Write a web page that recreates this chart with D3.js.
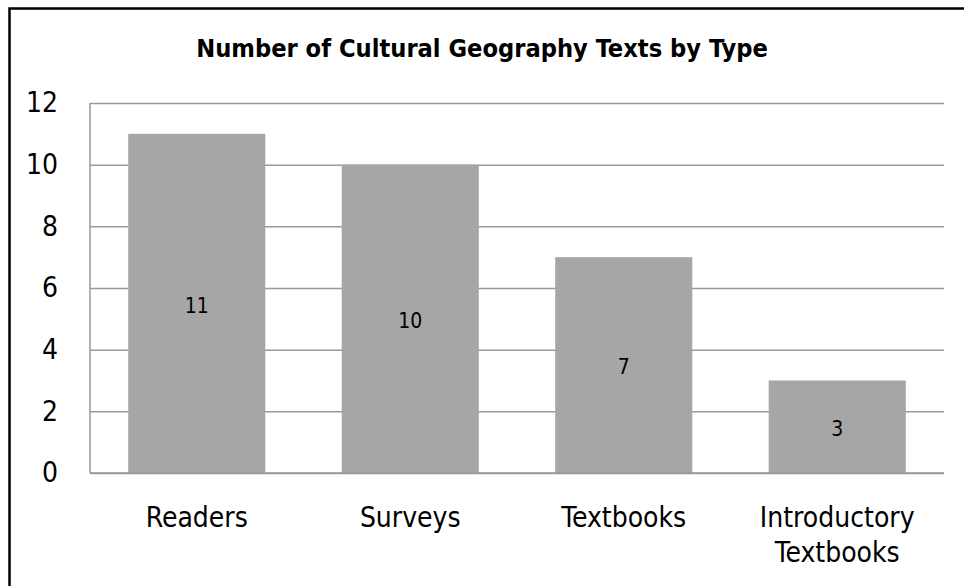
<!DOCTYPE html>
<html><head><meta charset="utf-8">
<script src="https://cdn.jsdelivr.net/npm/d3@7"></script>
<style>
html,body{margin:0;padding:0;background:#fff;}
svg text{font-family:"DejaVu Sans Condensed","DejaVu Sans",sans-serif;fill:#000;}
</style></head><body>
<svg id="chart" width="964" height="586"></svg>
<script>
const title = "Number of Cultural Geography Texts by Type";
const categories = ["Readers", "Surveys", "Textbooks", "Introductory Textbooks"];
const categoryLines = [["Readers"], ["Surveys"], ["Textbooks"], ["Introductory", "Textbooks"]];
const values = [11, 10, 7, 3];
const yTicks = [0, 2, 4, 6, 8, 10, 12];

const svg = d3.select("#chart");
const W = 964, H = 586;
const m = {left: 90, right: 20, top: 103, bottom: 113};
const pw = W - m.left - m.right, ph = H - m.top - m.bottom;

svg.append("rect").attr("x", 0).attr("y", 0).attr("width", W).attr("height", H).attr("fill", "#fff");
// outer frame
svg.append("rect").attr("x", 9.5).attr("y", 8.5).attr("width", W + 10).attr("height", H + 10)
  .attr("fill", "none").attr("stroke", "#000").attr("stroke-width", 2.5);

svg.append("text").attr("x", 482).attr("y", 57).attr("text-anchor", "middle")
  .attr("font-size", 25.2).attr("font-weight", "bold").text(title);

const x = d3.scaleBand().domain(categories).range([0, pw]).paddingInner(0.358).paddingOuter(0.179);
const y = d3.scaleLinear().domain([0, 12]).range([ph, 0]);

const g = svg.append("g").attr("transform", `translate(${m.left},${m.top})`);

// gridlines
g.append("g").call(d3.axisLeft(y).tickValues(yTicks).tickSize(-pw).tickFormat(""))
  .call(a => a.select(".domain").remove())
  .call(a => a.selectAll("line").attr("stroke", "#999").attr("stroke-width", 1.5));

// bars
g.selectAll("rect.bar").data(values).enter().append("rect").attr("class", "bar")
  .attr("x", (d, i) => x(categories[i])).attr("width", x.bandwidth())
  .attr("y", d => y(d)).attr("height", d => ph - y(d)).attr("fill", "#a6a6a6");

// value labels
g.selectAll("text.val").data(values).enter().append("text").attr("class", "val")
  .attr("x", (d, i) => x(categories[i]) + x.bandwidth() / 2)
  .attr("y", d => (y(d) + ph) / 2 + 2).attr("dy", "0.35em")
  .attr("text-anchor", "middle").attr("font-size", 21).text(d => d);

// axes lines
g.append("line").attr("x1", 0).attr("x2", 0).attr("y1", 0).attr("y2", ph).attr("stroke", "#999").attr("stroke-width", 1.5);
g.append("line").attr("x1", 0).attr("x2", pw).attr("y1", ph).attr("y2", ph).attr("stroke", "#999").attr("stroke-width", 1.5);

// y tick labels
const ya = g.append("g").call(d3.axisLeft(y).tickValues(yTicks).tickSize(0).tickPadding(32).tickFormat(d3.format("d")));
ya.select(".domain").remove();
ya.selectAll("text").attr("font-size", 28).attr("font-family", "DejaVu Sans Condensed, DejaVu Sans, sans-serif").attr("fill", "#000");

// x labels
const xl = g.append("g").attr("transform", `translate(0,${ph})`);
categories.forEach((c, i) => {
  const t = xl.append("text").attr("x", x(c) + x.bandwidth() / 2).attr("y", 54)
    .attr("text-anchor", "middle").attr("font-size", 28);
  categoryLines[i].forEach((ln, j) => {
    t.append("tspan").attr("x", x(c) + x.bandwidth() / 2).attr("dy", j === 0 ? 0 : 35).text(ln);
  });
});
</script></body></html>
